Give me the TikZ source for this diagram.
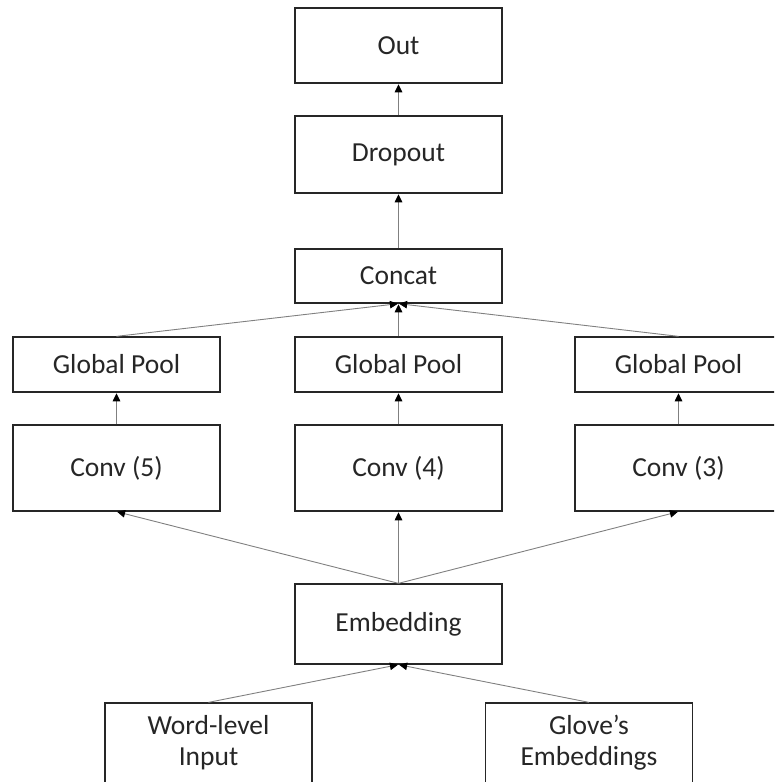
\documentclass[tikz,border=0pt]{standalone}
\usepackage{fontspec}
\setmainfont{Carlito}
\usetikzlibrary{arrows.meta}
\begin{document}
\begin{tikzpicture}[x=1pt,y=-1pt,
  box/.style={draw=black!85,line width=1.3pt,minimum width=207pt,inner sep=0pt,
    font=\fontsize{27.5}{31}\selectfont,text=black!85,align=center},
  conn/.style={draw=black!50,line width=0.9pt,
    -{Triangle[length=8pt,width=7.5pt,black]},shorten >=0.6pt}]
\useasboundingbox (0,0) rectangle (774,782);
\clip (0,0) rectangle (774,782);
\node[box,minimum height=75pt] (out) at (398.5,45.5) {Out};
\node[box,minimum height=77pt] (drop) at (398.5,154.5) {Dropout};
\node[box,minimum height=54pt] (concat) at (398.5,276) {Concat};
\node[box,minimum height=55pt] (gp5) at (116.5,364.5) {Global Pool};
\node[box,minimum height=55pt] (gp4) at (398.5,364.5) {Global Pool};
\node[box,minimum height=55pt] (gp3) at (678.5,364.5) {Global Pool};
\node[box,minimum height=86pt] (c5) at (116.5,468) {Conv (5)};
\node[box,minimum height=86pt] (c4) at (398.5,468) {Conv (4)};
\node[box,minimum height=86pt] (c3) at (678.5,468) {Conv (3)};
\node[box,minimum height=80pt] (emb) at (398.5,624) {Embedding};
\node[box,minimum height=80pt] (word) at (208.5,743) {Word-level\\Input};
\node[box,minimum height=80pt] (glove) at (589,743) {Glove’s\\Embeddings};
\draw[conn] (drop.north) -- (out.south);
\draw[conn] (concat.north) -- (drop.south);
\draw[conn] (gp5.north) -- (concat.south);
\draw[conn] (gp4.north) -- (concat.south);
\draw[conn] (gp3.north) -- (concat.south);
\draw[conn] (c5.north) -- (gp5.south);
\draw[conn] (c4.north) -- (gp4.south);
\draw[conn] (c3.north) -- (gp3.south);
\draw[conn] (emb.north) -- (c5.south);
\draw[conn] (emb.north) -- (c4.south);
\draw[conn] (emb.north) -- (c3.south);
\draw[conn] (word.north) -- (emb.south);
\draw[conn] (glove.north) -- (emb.south);
\end{tikzpicture}
\end{document}
